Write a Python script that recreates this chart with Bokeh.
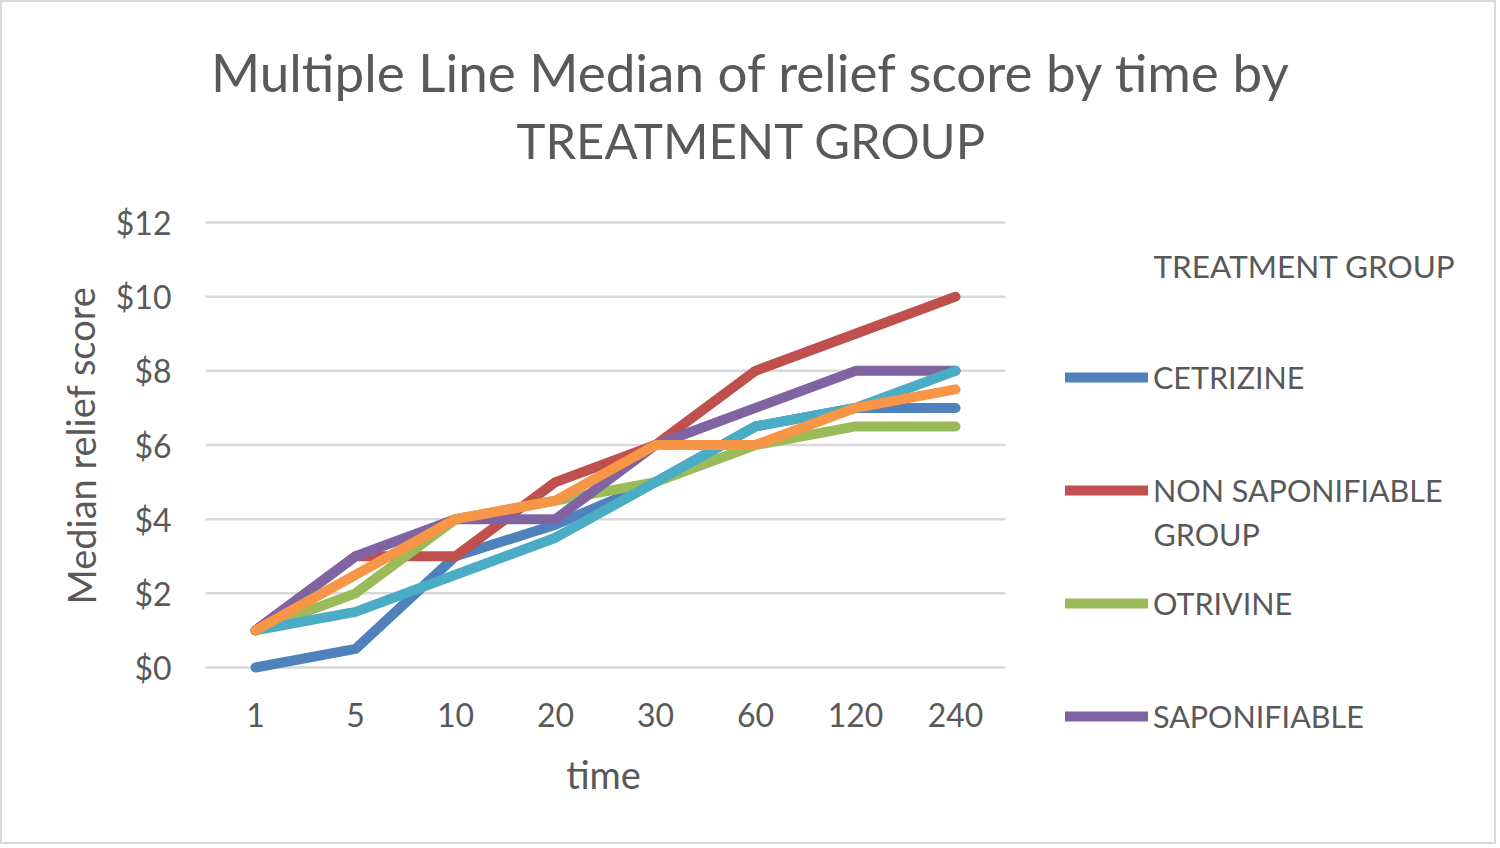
from bokeh.plotting import figure
from bokeh.models import (Range1d, FixedTicker, PrintfTickFormatter,
                          Label, Legend, LegendItem)
from bokeh.embed import file_html
from bokeh.resources import INLINE

# ---- data ----
times = ["1", "5", "10", "20", "30", "60", "120", "240"]
cetrizine = [0, 0.5, 3, 3.85, 5, 6.5, 7, 7]
non_saponifiable = [1, 3, 3, 5, 6, 8, 9, 10]
otrivine = [1, 2, 4, 4.5, 5, 6, 6.5, 6.5]
saponifiable = [1, 3, 4, 4, 6, 7, 8, 8]
series_5 = [1, 1.5, 2.5, 3.5, 5, 6.5, 7, 8]
series_6 = [1, 2.5, 4, 4.5, 6, 6, 7, 7.5]
y_ticks = [0, 2, 4, 6, 8, 10, 12]

title_lines = ["Multiple Line Median of relief score by time by", "TREATMENT GROUP"]
legend_title = "TREATMENT GROUP"
x_title = "time"
y_title = "Median relief score"

FONT = "Lato"
TXT = "#595959"

# ---- layout geometry (page pixels) ----
W, H = 1496, 844            # + 2px border each side
B = 2                       # border
FL, FR, FT, FB = 62, 1498, 2, 796   # frame edges on the page
X0 = 205                    # left edge of first category band
BAND = 100                  # px per category
Y0 = 667                    # y = 0 on the page
K = 445 / 12.0              # px per y unit

def dx(X):
    return (X - X0) / BAND

def dy(Y):
    return (Y0 - Y) / K

xs = [i + 0.5 for i in range(len(times))]

p = figure(width=W, height=H, output_backend="svg", toolbar_location=None,
           x_range=Range1d(dx(FL), dx(FR)), y_range=Range1d(dy(FB), dy(FT)),
           min_border_left=FL - B, min_border_right=0,
           min_border_top=0, min_border_bottom=(H + B) - FB)
p.styles = {"border": "2px solid #d9d9d9"}
p.outline_line_color = None
p.background_fill_color = "white"
p.border_fill_color = "white"
p.xgrid.visible = False
p.ygrid.visible = False

# grid lines spanning the category bands
n_bands = len(times)
p.segment(x0=[0] * len(y_ticks), x1=[n_bands] * len(y_ticks), y0=y_ticks, y1=y_ticks,
          line_color="#d9d9d9", line_width=2.5)

p.yaxis.ticker = FixedTicker(ticks=y_ticks)
p.yaxis.formatter = PrintfTickFormatter(format="$%d")
p.yaxis.fixed_location = dx(179)
p.yaxis.major_label_standoff = 2
p.xaxis.ticker = FixedTicker(ticks=xs)
p.xaxis.major_label_overrides = {x: t for x, t in zip(xs, times)}
p.xaxis.fixed_location = dy(687)
p.xaxis.major_label_standoff = 9
for ax in (p.xaxis, p.yaxis):
    ax.axis_line_color = None
    ax.major_tick_line_color = None
    ax.minor_tick_line_color = None
    ax.major_label_text_font = FONT
    ax.major_label_text_font_size = "32px"
    ax.major_label_text_color = TXT

colors = ["#4f81bd", "#c0504d", "#9bbb59", "#8064a2", "#4bacc6", "#f79646"]
data = [cetrizine, non_saponifiable, otrivine, saponifiable, series_5, series_6]
renderers = []
for vals, c in zip(data, colors):
    r = p.line(x=xs, y=vals, line_color=c, line_width=10,
               line_cap="round", line_join="round")
    renderers.append(r)

legend = Legend(items=[
    LegendItem(label="CETRIZINE", renderers=[renderers[0]]),
    LegendItem(label="NON SAPONIFIABLE", renderers=[renderers[1]]),
    LegendItem(label="OTRIVINE", renderers=[renderers[2]]),
    LegendItem(label="SAPONIFIABLE", renderers=[renderers[3]]),
], location=(1065 - FL, FB - 736), orientation="vertical")
legend.padding = 0
legend.margin = 0
legend.spacing = 73
legend.glyph_width = 83
legend.glyph_height = 40
legend.label_height = 40
legend.label_standoff = 5
legend.label_text_font = FONT
legend.label_text_font_size = "30.5px"
legend.label_text_color = TXT
legend.border_line_color = None
legend.background_fill_alpha = 0
p.add_layout(legend)

def lab(text, X, Y, size, align="center", angle=0):
    p.add_layout(Label(x=dx(X), y=dy(Y), text=text,
                       text_font=FONT, text_font_size=size, text_color=TXT,
                       text_align=align, text_baseline="middle", angle=angle))

lab(title_lines[0], 751, 71, "53px")
lab(title_lines[1], 751, 139, "49px")
lab(y_title, 80, 445, "38px", angle=1.5708)
lab(x_title, 603, 773, "38px")
lab(legend_title, 1153, 265, "31.5px", align="left")
lab("GROUP", 1153, 533, "30.5px", align="left")

open("out.html", "w").write(file_html(p, INLINE))
